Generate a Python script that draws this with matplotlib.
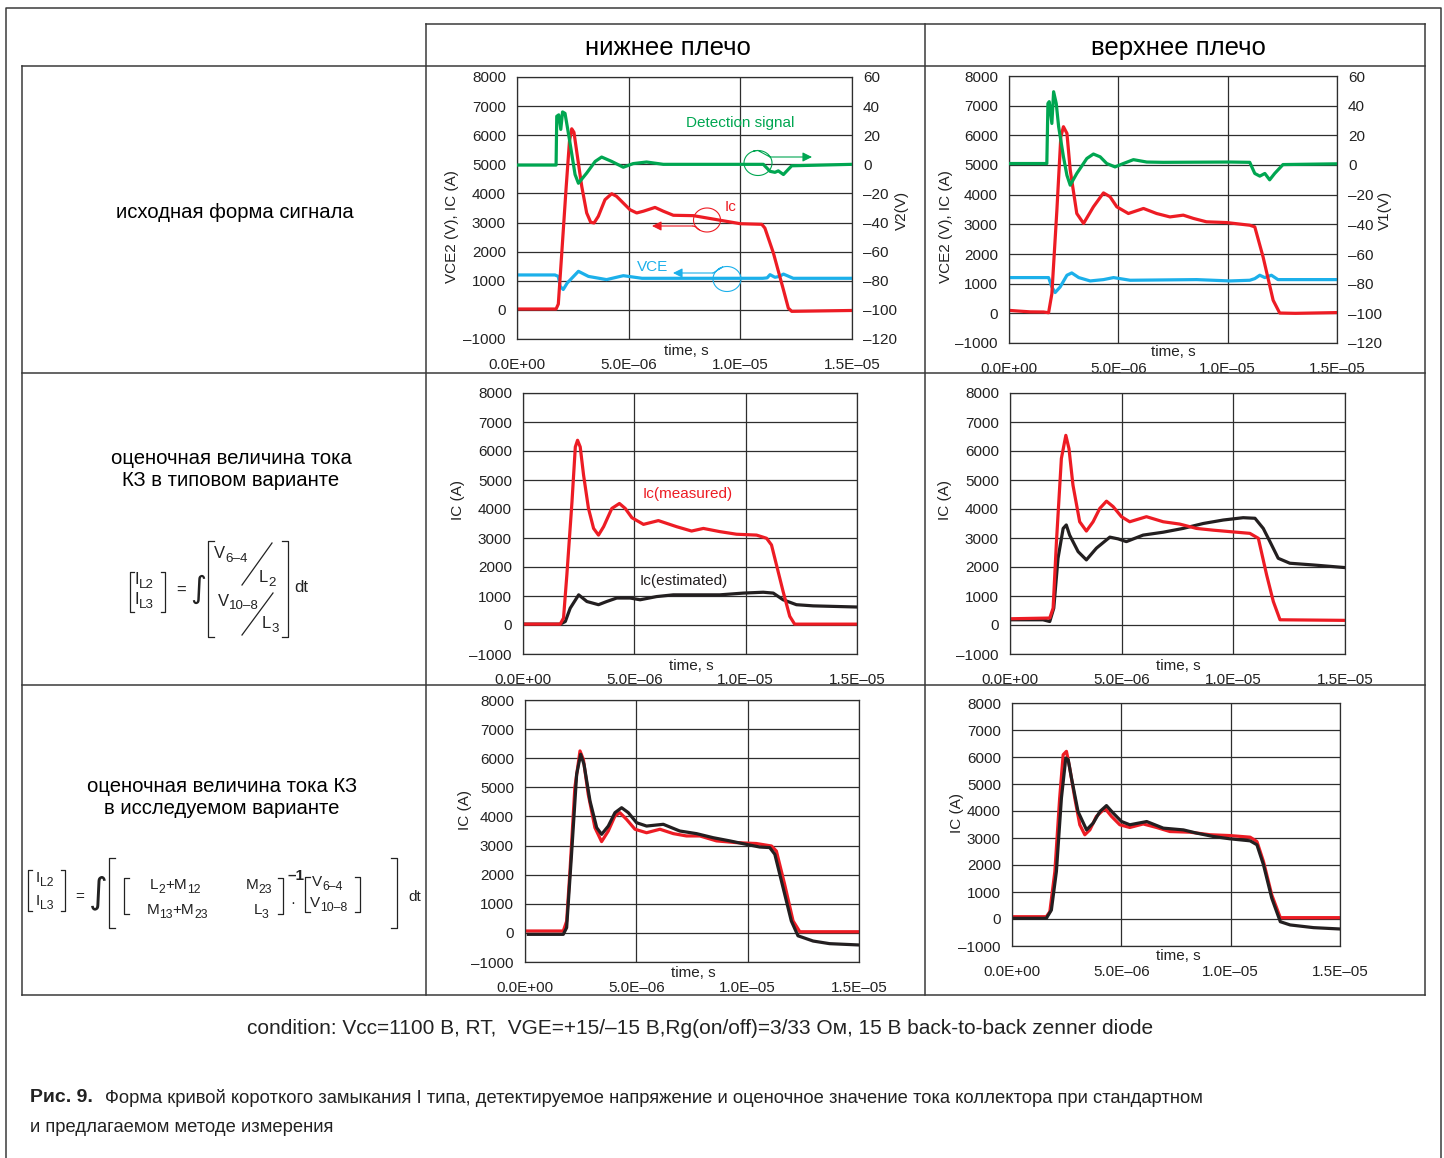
import numpy as np
import matplotlib
matplotlib.use('Agg')
import matplotlib.pyplot as plt

# figure size in pixels (100 dpi)
W, H = 1444, 1158

plt.rcParams['font.family'] = ['Liberation Sans', 'DejaVu Sans']

# ---------------- data (time in microseconds) ----------------
# top row, lower arm: Ic, detection signal (right axis), VCE
t_lo_ic = [0, 1.75, 1.85, 2.0, 2.2, 2.35, 2.45, 2.55, 2.7, 2.9, 3.12, 3.3, 3.45, 3.64, 3.94, 4.24,
           4.46, 4.76, 5.06, 5.36, 5.66, 6.18, 6.55, 7.0, 7.9, 8.94, 10.0, 10.96, 11.1, 11.48, 11.93,
           12.15, 12.3, 15]
lo_ic = [30, 30, 200, 1900, 4200, 5800, 6220, 6100, 5300, 4240, 3330, 3010, 2985, 3214, 3786, 3990,
         3900, 3670, 3440, 3330, 3390, 3520, 3390, 3250, 3237, 3100, 2960, 2940, 2810, 1955, 690,
         60, -50, -20]
t_lo_det = [0, 1.75, 1.78, 1.87, 1.96, 2.04, 2.15, 2.25, 2.37, 2.6, 2.75, 3.12, 3.5, 3.79, 4.24, 4.76,
            5.2, 5.8, 6.55, 11.03, 11.33, 11.55, 11.7, 11.93, 12.3, 15]
lo_det = [-0.5, -0.5, 33, 34, 24, 36, 35, 26, 15, -7, -13, -6, 2, 5, 2, -2,
          0.5, 1.6, 0, 0, -4.8, -5.5, -4.5, -7, -1, 0]
t_lo_vce = [0, 1.7, 1.85, 1.93, 2.07, 2.25, 2.75, 3.2, 4.01, 4.76, 5.6, 11.0, 11.2, 11.33, 11.55,
            11.75, 11.93, 12.37, 15]
lo_vce = [1200, 1200, 1150, 810, 700, 925, 1325, 1150, 1040, 1175, 1085, 1085, 1100, 1210, 1120,
          1150, 1230, 1085, 1085]

# top row, upper arm
t_up_ic = [0, 0.37, 0.97, 1.58, 1.81, 1.96, 2.19, 2.37, 2.49, 2.65, 2.8, 3.1, 3.41, 3.86, 4.32, 4.62,
           4.93, 5.46, 6.15, 6.75, 7.36, 7.97, 8.43, 9.03, 9.95, 11.01, 11.24, 11.62, 12.08, 12.38,
           13.1, 15]
up_ic = [100, 80, 50, 45, 20, 660, 3480, 5950, 6290, 6065, 4830, 3365, 3030, 3590, 4060, 3930,
         3590, 3365, 3535, 3365, 3250, 3310, 3200, 3085, 3060, 2970, 2915, 1900, 440, 10,
         0, 25]
t_up_det = [0, 1.73, 1.78, 1.84, 1.96, 2.04, 2.16, 2.27, 2.49, 2.65, 2.8, 3.1, 3.56, 3.86, 4.17, 4.47,
            4.85, 5.23, 5.69, 6.3, 7.05, 10.1, 11.01, 11.24, 11.47, 11.7, 11.92, 12.15, 12.53, 15]
up_det = [1, 1, 41.5, 42.7, 28, 49.4, 41.5, 25.8, 5.5, -7, -13.6, -5.7, 4.4, 7.4, 5.5, 1,
          -1.3, 1, 3.6, 2, 1.8, 2, 1.8, -5.7, -7.5, -5.7, -10, -5.7, 0.3, 0.8]
t_up_vce = [0, 1.81, 1.96, 2.11, 2.34, 2.65, 2.87, 3.19, 3.71, 4.32, 4.78, 5.54, 8.58, 10.1, 11.01,
            11.24, 11.47, 11.7, 12.0, 12.3, 15]
up_vce = [1205, 1205, 890, 700, 890, 1284, 1362, 1205, 1092, 1137, 1205, 1115, 1137, 1092, 1115,
          1170, 1284, 1205, 1284, 1137, 1137]

# middle row: measured vs estimated (standard method)
t_lo_meas = [0, 1.67, 1.82, 1.97, 2.2, 2.35, 2.45, 2.57, 2.72, 2.94, 3.17, 3.39, 3.62, 3.99, 4.33,
             4.59, 4.89, 5.41, 6.08, 6.9, 7.57, 8.1, 8.84, 9.59, 10.49, 10.94, 11.16, 11.68, 11.98,
             12.2, 15]
lo_meas = [30, 30, 240, 1730, 4250, 6140, 6370, 6140, 5170, 4020, 3330, 3100, 3390, 4020, 4190,
           4020, 3700, 3470, 3600, 3390, 3240, 3330, 3220, 3130, 3100, 2990, 2760, 1160, 300,
           30, 30]
t_lo_est = [0, 1.67, 1.9, 2.12, 2.5, 2.87, 3.39, 3.76, 4.21, 4.81, 5.26, 6.0, 6.75, 7.8, 8.84, 9.89,
            10.79, 11.24, 11.68, 12.28, 13.03, 15]
lo_est = [30, 30, 120, 580, 1040, 810, 700, 810, 930, 930, 870, 980, 1040, 1040, 1040, 1100,
          1130, 1100, 870, 700, 660, 620]
t_up_meas = [0, 1.78, 1.93, 2.08, 2.3, 2.5, 2.64, 2.82, 3.12, 3.42, 3.72, 4.02, 4.32, 4.62, 4.99,
             5.36, 6.11, 6.86, 7.6, 8.35, 9.1, 9.84, 10.74, 11.12, 11.49, 11.79, 12.09, 15]
up_meas = [215, 240, 580, 2875, 5740, 6540, 6085, 4820, 3560, 3240, 3560, 4020, 4270, 4080, 3735,
           3560, 3735, 3560, 3480, 3330, 3270, 3220, 3160, 2990, 1730, 810, 180, 160]
t_up_est = [0, 1.48, 1.78, 1.96, 2.15, 2.38, 2.52, 2.67, 3.05, 3.42, 3.87, 4.47, 4.84, 5.21, 5.96,
            6.86, 7.75, 8.65, 9.55, 10.44, 10.97, 11.34, 11.64, 12.01, 12.53, 13.58, 15]
up_est = [180, 180, 120, 580, 2300, 3330, 3450, 3100, 2530, 2245, 2650, 3030, 2970, 2875, 3100,
          3200, 3330, 3500, 3620, 3700, 3680, 3330, 2875, 2300, 2130, 2070, 1980]

# bottom row: measured vs estimated (proposed method)
t_lo_new_meas = [0, 1.72, 1.87, 2.02, 2.24, 2.47, 2.62, 2.84, 3.14, 3.44, 3.74, 4.04, 4.26, 4.56,
                 4.94, 5.46, 6.06, 6.66, 7.25, 7.85, 8.6, 9.5, 10.39, 11.07, 11.29, 11.66, 12.04,
                 12.34, 15]
lo_new_meas = [65, 65, 400, 2130, 5000, 6250, 5960, 4760, 3615, 3135, 3500, 4015, 4130, 3900,
               3560, 3440, 3560, 3410, 3330, 3330, 3160, 3100, 3070, 2985, 2810, 1670, 410,
               40, 40]
t_lo_new_est = [0.15, 1.72, 1.87, 2.09, 2.32, 2.5, 2.65, 2.92, 3.22, 3.44, 3.74, 4.04, 4.34, 4.64,
                5.01, 5.46, 6.21, 6.95, 7.7, 8.45, 9.2, 9.95, 10.54, 10.99, 11.22, 11.59, 11.96,
                12.26, 12.94, 13.68, 15]
lo_new_est = [-50, -50, 180, 2700, 5450, 6135, 5790, 4530, 3615, 3385, 3670, 4130, 4300, 4130,
              3785, 3670, 3730, 3500, 3410, 3270, 3160, 3040, 2950, 2930, 2700, 1555, 410,
              -100, -280, -370, -415]
t_up_new_meas = [0, 1.57, 1.73, 1.96, 2.18, 2.34, 2.49, 2.64, 2.87, 3.1, 3.33, 3.56, 3.86, 4.25,
                 4.55, 4.93, 5.39, 6.0, 6.61, 7.22, 8.14, 9.06, 9.97, 10.89, 11.2, 11.5, 11.88,
                 12.27, 15]
up_new_meas = [85, 85, 270, 1760, 4480, 6085, 6210, 5590, 4480, 3490, 3120, 3300, 3800, 4100,
               3800, 3490, 3390, 3520, 3390, 3240, 3215, 3120, 3090, 3030, 2870, 2130, 890,
               50, 50]
t_up_new_est = [0, 1.57, 1.8, 2.03, 2.26, 2.46, 2.57, 2.72, 3.02, 3.41, 3.71, 4.02, 4.32, 4.63,
                5.01, 5.39, 6.16, 6.92, 7.84, 8.45, 9.21, 9.97, 10.89, 11.2, 11.5, 11.88, 12.27,
                12.72, 13.79, 15]
up_new_est = [25, 25, 330, 1760, 4480, 5960, 5900, 5220, 3980, 3300, 3550, 3980, 4200, 3920,
              3610, 3490, 3610, 3365, 3300, 3180, 3055, 2970, 2895, 2750, 2010, 770, -100,
              -220, -320, -370]

# axis ticks
x_ticks = [0, 5, 10, 15]
x_tick_labels = ['0.0E+00', '5.0E–06', '1.0E–05', '1.5E–05']
y_ticks = list(range(-1000, 8001, 1000))
y2_ticks = list(range(-120, 61, 20))

col_titles = ['нижнее плечо', 'верхнее плечо']
row_titles = ['исходная форма сигнала',
              'оценочная величина тока\nКЗ в типовом варианте',
              'оценочная величина тока КЗ\nв исследуемом варианте']
condition = 'condition: Vcc=1100 B, RT,  VGE=+15/–15 B,Rg(on/off)=3/33 Ом, 15 B back-to-back zenner diode'
caption_bold = 'Рис. 9.'
caption_1 = 'Форма кривой короткого замыкания I типа, детектируемое напряжение и оценочное значение тока коллектора при стандартном'
caption_2 = 'и предлагаемом методе измерения'

GREEN = '#00a651'
RED = '#ed1c24'
BLUE = '#1cb0ea'
BLACK = '#231f20'
GRID = '#2e2e2e'
TXT = '#222222'
LW = 2.3
TFS = 11  # tick / axis label font size


def dash(v):
    return str(v).replace('-', '–')


fig = plt.figure(figsize=(W / 100, H / 100), dpi=100)
R = fig.canvas.get_renderer()


def box(l, t, r, b):
    return fig.add_axes([l / W, 1 - b / H, (r - l) / W, (b - t) / H])


def style(ax):
    ax.set_xlim(0, 15)
    ax.set_ylim(-1000, 8000)
    ax.set_xticks(x_ticks)
    ax.set_xticklabels(x_tick_labels)
    ax.set_yticks(y_ticks)
    ax.set_yticklabels([dash(v) for v in y_ticks])
    ax.grid(True, color=GRID, lw=0.9)
    ax.set_axisbelow(True)
    ax.tick_params(length=0, labelsize=TFS, colors=TXT)
    ax.tick_params(axis='x', pad=14)
    ax.tick_params(axis='y', pad=8)
    for s in ax.spines.values():
        s.set_color(GRID)
        s.set_linewidth(0.9)


def right_axis(ax):
    a2 = ax.twinx()
    a2.set_ylim(-120, 60)
    a2.set_yticks(y2_ticks)
    a2.set_yticklabels([dash(v) for v in y2_ticks])
    a2.tick_params(length=0, labelsize=TFS, pad=8, colors=TXT)
    for s in a2.spines.values():
        s.set_visible(False)
    return a2


# top row
ax1 = box(517, 77, 852, 339)
style(ax1)
ax1.plot(t_lo_vce, lo_vce, color=BLUE, lw=LW, solid_joinstyle='round')
ax1.plot(t_lo_ic, lo_ic, color=RED, lw=LW, solid_joinstyle='round')
ax1r = right_axis(ax1)
ax1r.plot(t_lo_det, lo_det, color=GREEN, lw=LW, solid_joinstyle='round')

ax2 = box(1009, 76, 1337, 343)
style(ax2)
ax2.plot(t_up_vce, up_vce, color=BLUE, lw=LW, solid_joinstyle='round')
ax2.plot(t_up_ic, up_ic, color=RED, lw=LW, solid_joinstyle='round')
ax2r = right_axis(ax2)
ax2r.plot(t_up_det, up_det, color=GREEN, lw=LW, solid_joinstyle='round')

# middle row
ax3 = box(523, 393, 857, 654)
style(ax3)
ax3.plot(t_lo_est, lo_est, color=BLACK, lw=LW, solid_joinstyle='round')
ax3.plot(t_lo_meas, lo_meas, color=RED, lw=LW, solid_joinstyle='round')

ax4 = box(1010, 393, 1345, 654)
style(ax4)
ax4.plot(t_up_est, up_est, color=BLACK, lw=LW, solid_joinstyle='round')
ax4.plot(t_up_meas, up_meas, color=RED, lw=LW, solid_joinstyle='round')

# bottom row
ax5 = box(525, 700, 859, 962)
style(ax5)
ax5.plot(t_lo_new_meas, lo_new_meas, color=RED, lw=LW, solid_joinstyle='round')
ax5.plot(t_lo_new_est, lo_new_est, color=BLACK, lw=LW, solid_joinstyle='round')

ax6 = box(1012, 703, 1340, 946)
style(ax6)
ax6.plot(t_up_new_meas, up_new_meas, color=RED, lw=LW, solid_joinstyle='round')
ax6.plot(t_up_new_est, up_new_est, color=BLACK, lw=LW, solid_joinstyle='round')

# ---------------- overlay in pixel coordinates ----------------
ov = fig.add_axes([0, 0, 1, 1])
ov.set_xlim(0, W)
ov.set_ylim(H, 0)
ov.axis('off')

LINE = dict(color='#3a3a3a', lw=1.1)
ov.plot([6, 6, 1441, 1441], [H, 8, 8, H], **LINE)
ov.plot([426, 1425], [24, 24], **LINE)
for x in [426, 925, 1425]:
    ov.plot([x, x], [24, 995], **LINE)
ov.plot([22, 22], [66, 995], **LINE)
for y in [66, 373, 685, 995]:
    ov.plot([22, 1425], [y, y], **LINE)

ov.text(668, 48, col_titles[0], fontsize=18.5, ha='center', va='center')
ov.text(1178, 48, col_titles[1], fontsize=18.5, ha='center', va='center')
for (x, y), s in zip([(235, 213), (231, 469), (222, 797)], row_titles):
    ov.text(x, y, s, fontsize=14.6, ha='center', va='center', linespacing=1.2)

# axis titles
for x, y, s in [(452, 227, 'VCE2 (V), IC (A)'), (946, 227, 'VCE2 (V), IC (A)'),
                (458, 500, 'IC (A)'), (945, 500, 'IC (A)'),
                (465, 810, 'IC (A)'), (957, 813, 'IC (A)')]:
    ov.text(x, y, s, fontsize=TFS, rotation=90, ha='center', va='center', color=TXT)
ov.text(902, 210, 'V2(V)', fontsize=TFS, rotation=90, ha='center', va='center', color=TXT)
ov.text(1385, 210, 'V1(V)', fontsize=TFS, rotation=90, ha='center', va='center', color=TXT)
for x, y in [(686, 351), (1173, 352), (691, 666), (1178, 666), (693, 973), (1178, 956)]:
    ov.text(x, y, 'time, s', fontsize=TFS, ha='center', va='center', color=TXT)

# curve labels
ov.text(740, 123, 'Detection signal', color=GREEN, fontsize=TFS, ha='center', va='center')
ov.text(731, 207, 'Ic', color=RED, fontsize=TFS, ha='center', va='center')
ov.text(653, 267, 'VCE', color=BLUE, fontsize=TFS, ha='center', va='center')
ov.text(688, 494, 'Ic(measured)', color=RED, fontsize=TFS, ha='center', va='center')
ov.text(684, 581, 'Ic(estimated)', color=BLACK, fontsize=TFS, ha='center', va='center')


def lasso(cx, cy, w, h, a0, tail, head, color):
    th = np.linspace(a0, a0 + 2.1 * np.pi, 80)
    xs = cx + w / 2 * np.cos(th)
    ys = cy + h / 2 * np.sin(th)
    ov.plot(list(xs) + [tail[0]], list(ys) + [tail[1]], color=color, lw=0.8)
    ov.annotate('', xy=head, xytext=tail,
                arrowprops=dict(arrowstyle='-|>', color=color, lw=0.8, mutation_scale=14,
                                shrinkA=0, shrinkB=0))


lasso(758, 163, 28, 25, -0.6 * np.pi, (770, 157), (812, 157), GREEN)
lasso(707, 220, 27, 24, 0.7 * np.pi, (693, 226), (652, 226), RED)
lasso(727, 279, 28, 25, 1.3 * np.pi, (713, 273), (673, 273), BLUE)


# ---------------- formulas ----------------
def rich(x, y, parts, fs, ha='left'):
    # parts: list of (string, is_subscript); laid out left to right
    sfs = fs * 0.8
    widths = []
    for s, sub in parts:
        t = ov.text(0, 0, s, fontsize=sfs if sub else fs)
        widths.append(t.get_window_extent(renderer=R).width)
        t.remove()
    x0 = x - sum(widths) / 2 if ha == 'center' else x
    for (s, sub), w in zip(parts, widths):
        dy = fs * 100 / 72 * 0.3 if sub else 0
        ov.text(x0, y + dy, s, fontsize=sfs if sub else fs, ha='left', va='center', color=TXT)
        x0 += w


def bracket(x, y0, y1, side, serif=4):
    d = serif if side == 'l' else -serif
    ov.plot([x + d, x, x, x + d], [y0, y0, y1, y1], color=TXT, lw=0.9)


F1 = 12
bracket(130, 572, 612, 'l')
bracket(165, 572, 612, 'r')
rich(134, 580, [('I', 0), ('L2', 1)], F1)
rich(134, 600, [('I', 0), ('L3', 1)], F1)
ov.text(181, 590, '=', fontsize=F1, ha='center', va='center', color=TXT)
ov.text(198, 589, '∫', fontsize=22, ha='center', va='center', family='DejaVu Sans', color=TXT)
bracket(208, 541, 637, 'l', 6)
bracket(288, 541, 637, 'r', 6)
rich(214, 554, [('V', 0), ('6–4', 1)], F1)
ov.plot([242, 272], [585, 543], color=TXT, lw=0.9)
rich(259, 578, [('L', 0), ('2', 1)], F1)
rich(218, 601, [('V', 0), ('10–8', 1)], F1)
ov.plot([242, 273], [635, 593], color=TXT, lw=0.9)
rich(262, 624, [('L', 0), ('3', 1)], F1)
ov.text(294, 588, 'dt', fontsize=F1, ha='left', va='center', color=TXT)

F2 = 11
bracket(28, 870, 911, 'l')
bracket(65, 870, 911, 'r')
rich(36, 878, [('I', 0), ('L2', 1)], F2)
rich(36, 901, [('I', 0), ('L3', 1)], F2)
ov.text(80, 897, '=', fontsize=F2, ha='center', va='center', color=TXT)
ov.text(98, 893, '∫', fontsize=26, ha='center', va='center', family='DejaVu Sans', color=TXT)
bracket(109, 858, 928, 'l', 6)
bracket(397, 858, 928, 'r', 6)
bracket(124, 878, 914, 'l', 5)
bracket(283, 878, 914, 'r', 5)
rich(175, 885, [('L', 0), ('2', 1), ('+M', 0), ('12', 1)], F2, 'center')
rich(259, 885, [('M', 0), ('23', 1)], F2, 'center')
rich(177, 910, [('M', 0), ('13', 1), ('+M', 0), ('23', 1)], F2, 'center')
rich(261, 910, [('L', 0), ('3', 1)], F2, 'center')
ov.text(287, 876, '–1', fontsize=11, ha='left', va='center', fontweight='bold', color=TXT)
ov.text(293, 903, '·', fontsize=F2, ha='center', va='center', color=TXT)
bracket(305, 877, 912, 'l', 5)
bracket(360, 877, 912, 'r', 5)
rich(312, 882, [('V', 0), ('6–4', 1)], F2)
rich(310, 903, [('V', 0), ('10–8', 1)], F2)
ov.text(408, 897, 'dt', fontsize=F2, ha='left', va='center', color=TXT)

# ---------------- condition and caption ----------------
ov.text(700, 1028, condition, fontsize=15, ha='center', va='center', color=TXT)
ov.text(30, 1098, caption_bold, fontsize=14, ha='left', va='center', fontweight='bold', color=TXT)
ov.text(105, 1098, caption_1, fontsize=13.2, ha='left', va='center', color=TXT)
ov.text(30, 1127, caption_2, fontsize=13.2, ha='left', va='center', color=TXT)

fig.savefig('out.png', dpi=100)
